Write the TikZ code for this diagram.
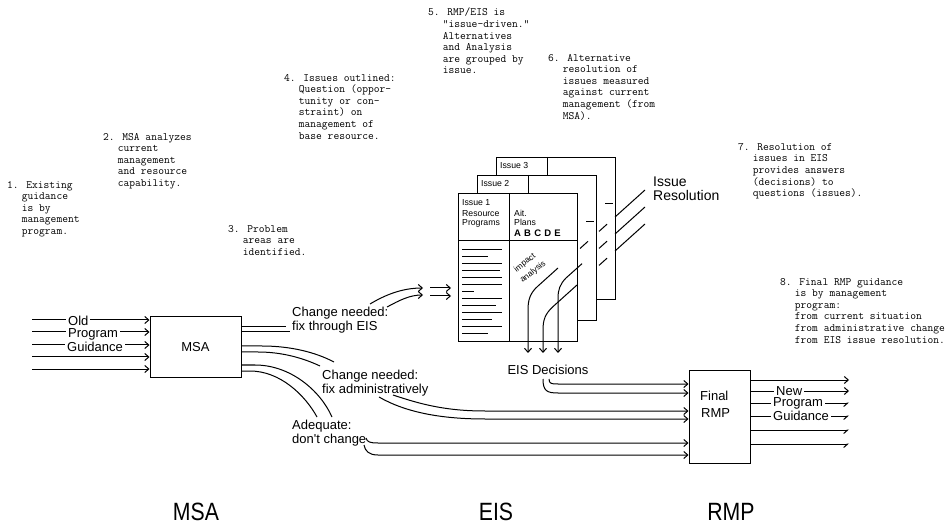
\documentclass[tikz,border=0pt]{standalone}
\usepackage{fontspec}
\usepackage{graphicx}
\newfontfamily\hvfont{Liberation Sans}
\usetikzlibrary{arrows.meta}
\newcommand{\myind}{\hspace*{1.3125em}}
\begin{document}
\begin{tikzpicture}[x=1pt,y=-1pt,
  ln/.style={line width=1pt},
  ar/.style={ln,-{Straight Barb[length=4pt,width=7pt]}},
  arh/.style={ln,-{Straight Barb[length=4pt,width=7pt,right]}},
  ann/.style={anchor=north west,inner sep=0pt,align=left,font=\ttfamily\fontsize{11.2}{11.6}\selectfont},
  lab/.style={inner sep=0pt,font=\hvfont\fontsize{13}{14}\selectfont},
  wlab/.style={lab,anchor=west,fill=white,inner xsep=2pt,inner ysep=1pt},
  page/.style={draw,fill=white,line width=1pt,anchor=north west,inner sep=0pt},
  sm/.style={inner sep=0pt,anchor=west,font=\hvfont\fontsize{8.7}{9}\selectfont},
  big/.style={inner sep=0pt,font=\hvfont\fontsize{25}{28}\selectfont}
]
\useasboundingbox (0,0) rectangle (950,526);

% ---------------- annotations ----------------
\node[ann] (a1) at (7,181) {1. Existing\\\myind guidance\\\myind is by\\\myind management\\\myind program.};
\node[ann] (a2) at (103,133) {2. MSA analyzes\\\myind current\\\myind management\\\myind and resource\\\myind capability.};
\node[ann] (a3) at (228,225) {3. Problem\\\myind areas are\\\myind identified.};
\node[ann] (a4) at (284,74) {4. Issues outlined:\\\myind Question (oppor-\\\myind tunity or con-\\\myind straint) on\\\myind management of\\\myind base resource.};
\node[ann] (a5) at (428,8) {5. RMP/EIS is\\\myind "issue-driven."\\\myind Alternatives\\\myind and Analysis\\\myind are grouped by\\\myind issue.};
\node[ann] (a6) at (548,54) {6. Alternative\\\myind resolution of\\\myind issues measured\\\myind against current\\\myind management (from\\\myind MSA).};
\node[ann] (a7) at (738,143) {7. Resolution of\\\myind issues in EIS\\\myind provides answers\\\myind (decisions) to\\\myind questions (issues).};
\node[ann] (a8) at (780,278) {8. Final RMP guidance\\\myind is by management\\\myind program:\\\myind from current situation\\\myind from administrative change\\\myind from EIS issue resolution.};

% ---------------- MSA box and inputs ----------------
\node[draw,ln,minimum width=91pt,minimum height=60pt,inner sep=0pt,lab] (msa) at (195.5,347) {MSA};
\foreach \k/\yy in {1/320,2/332,3/345,4/357,5/369}{
  \coordinate (in\k) at (32,\yy);
  \draw[ar] (in\k) -- (in\k -| msa.west);
}
\node[wlab] (old) at (66,321) {Old};
\node[wlab] (prog) at (66,334) {Program};
\node[wlab] (guid) at (65,347) {Guidance};

% ---------------- MSA outputs ----------------
% pair 1 : change needed, fix through EIS
\coordinate (m1a) at (241,327); \coordinate (e1a) at (286,327);
\coordinate (m1b) at (241,332); \coordinate (e1b) at (290,332);
\draw[ln] (m1a) -- (e1a);
\draw[ln] (m1b) -- (e1b);
\node[lab,anchor=north west,align=left] (cn1) at (292,307) {Change needed:\\fix through EIS};
\coordinate (c1a) at (370,304); \coordinate (t1a) at (423,288);
\coordinate (c1b) at (387,307); \coordinate (t1b) at (423,295);
\draw[ar] (c1a) .. controls (385,295) and (402,288) .. (t1a);
\draw[ar] (c1b) .. controls (400,300) and (410,295) .. (t1b);
\coordinate (s1a) at (430,288); \coordinate (s2a) at (451,288);
\coordinate (s1b) at (430,296); \coordinate (s2b) at (451,296);
\draw[ar] (s1a) -- (s2a);
\draw[ar] (s1b) -- (s2b);

% pair 2 : change needed, fix administratively
\coordinate (m2a) at (241,346); \coordinate (e2a) at (334,362);
\coordinate (m2b) at (241,352); \coordinate (e2b) at (320,366);
\draw[ln] (m2a) -- (262,346) .. controls (290,346) and (315,352) .. (e2a);
\draw[ln] (m2b) -- (258,352) .. controls (282,352) and (303,358) .. (e2b);
\node[lab,anchor=north west,align=left] (cn2) at (322,370) {Change needed:\\fix administratively};

% pair 3 : adequate
\coordinate (m3a) at (241,365); \coordinate (e3a) at (332,417);
\coordinate (m3b) at (241,371); \coordinate (e3b) at (317,417);
\draw[ln] (m3a) -- (255,365) .. controls (290,365) and (320,390) .. (e3a);
\draw[ln] (m3b) -- (250,371) .. controls (280,371) and (305,395) .. (e3b);
\node[lab,anchor=north west,align=left] (cn3) at (292,420) {Adequate:\\don't change};

% ---------------- RMP box ----------------
\node[draw,ln,minimum width=61pt,minimum height=93pt,inner sep=0pt] (rmp) at (719.5,416.5) {};
\node[lab,anchor=west] (fin) at (700,396) {Final};
\node[lab,anchor=west] (rmpt) at (701,413) {RMP};

% admin lines to RMP
\coordinate (d2a) at (393,395); \coordinate (d2b) at (379,397);
\draw[ar] (d2a) .. controls (420,404) and (445,411) .. (485,411) -- (rmp.west |- 0,411);
\draw[ar] (d2b) .. controls (405,412) and (440,419) .. (485,419) -- (rmp.west |- 0,419);
% adequate lines to RMP
\coordinate (d3a) at (366,438); \coordinate (d3b) at (364,445);
\draw[ar] (d3a) .. controls (367,442) and (370,443) .. (378,443) -- (rmp.west |- 0,443);
\draw[ar] (d3b) .. controls (365,451) and (369,455) .. (378,455) -- (rmp.west |- 0,455);

% ---------------- EIS stack ----------------
\node[page,minimum width=119pt,minimum height=142pt] (p3) at (496,157) {};
\draw[ln] (p3.north west) ++(51,0) -- ++(0,18);
\node[sm] (i3) at (500,166) {Issue 3};
\draw[ln] (605,204) -- (613,204);
% issue resolution lines
\coordinate (r1s) at (615,217); \coordinate (r1e) at (645,190);
\coordinate (r2s) at (615,234); \coordinate (r2e) at (645,207);
\coordinate (r3s) at (615,251); \coordinate (r3e) at (645,224);
\draw[ln] (r1s) -- (r1e);
\draw[ln] (r2s) -- (r2e);
\draw[ln] (r3s) -- (r3e);
\draw[ln] (599,231.4) -- (607,224.2);
\draw[ln] (599,248.4) -- (607,241.2);
\draw[ln] (599,265.4) -- (607,258.2);

\node[page,minimum width=119pt,minimum height=145pt] (p2) at (477,175) {};
\draw[ln] (p2.north west) ++(51,0) -- ++(0,18);
\node[sm] (i2) at (481,184) {Issue 2};
\draw[ln] (586,222) -- (594,222);
\draw[ln] (580,248.5) -- (588,241.3);

\node[page,minimum width=119pt,minimum height=148pt] (p1) at (458,193) {};
\draw[ln] (p1.north west) ++(51,0) -- (509,341);
\draw[ln] (458,241) -- (577,241);
\node[sm] (i1) at (462,203) {Issue 1};
\node[sm,align=left,anchor=north west] (rp) at (462,210) {Resource\\Programs};
\node[sm,align=left,anchor=north west] (ap) at (514,210) {Ait.\\Plans};
\node[sm,anchor=west,font=\hvfont\bfseries\fontsize{9.5}{10}\selectfont] (abc) at (514,233) {A\,\,B\,\,C\,\,D\,\,E};
\foreach \yy/\len in {249/40,256/26,263/40,270/38,277/40,284/40,291/12,298/40,305/34,312/40,319/30,326/40,333/26}
  \draw[line width=0.8pt] (462,\yy) -- ++(\len,0);
\node[sm,anchor=center,rotate=38,font=\hvfont\fontsize{8.3}{8.8}\selectfont] (imp1) at (525,263) {impact};
\node[sm,anchor=center,rotate=38,font=\hvfont\fontsize{8.3}{8.8}\selectfont] (imp2) at (533,272) {analysis};

% decision curves
\coordinate (ca) at (558,268); \coordinate (ta) at (528,353);
\coordinate (cb) at (577,285); \coordinate (tb) at (543,353);
\coordinate (cc) at (582,263.7); \coordinate (tc) at (558,353);
\draw[ar] (ca) -- (538,286) .. controls (530,293) and (528,300) .. (528,310) -- (ta);
\draw[ar] (cb) -- (553,306.6) .. controls (545,314) and (543,320) .. (543,330) -- (tb);
\draw[ar] (cc) -- (566,278) .. controls (560,284) and (558,290) .. (558,298) -- (tc);

\node[lab,anchor=north west,align=left,font=\hvfont\fontsize{14}{14}\selectfont] (ir) at (653,177) {Issue\\Resolution};
\node[lab] (eisd) at (548,370) {EIS Decisions};
\coordinate (h1) at (549,379); \coordinate (h2) at (543,379);
\draw[ar] (h1) .. controls (549,384) and (552,384) .. (558,384) -- (rmp.west |- 0,384);
\draw[ar] (h2) .. controls (543,391) and (547,393) .. (558,393) -- (rmp.west |- 0,393);

% ---------------- RMP outputs ----------------
\foreach \k/\yy/\st in {1/380/ar,2/391/ar,3/403/arh,4/416/arh,5/430/arh,6/444/arh}{
  \coordinate (o\k) at (849,\yy);
  \draw[\st] (rmp.east |- o\k) -- (o\k);
}
\node[wlab] (new) at (774,391) {New};
\node[wlab] (nprog) at (771,403) {Program};
\node[wlab] (nguid) at (771,416) {Guidance};

% ---------------- bottom titles ----------------
\node[big] (tmsa) at (196,512) {\scalebox{0.85}[1]{MSA}};
\node[big] (teis) at (496,512) {\scalebox{0.85}[1]{EIS}};
\node[big] (trmp) at (731,512) {\scalebox{0.85}[1]{RMP}};
\end{tikzpicture}
\end{document}
